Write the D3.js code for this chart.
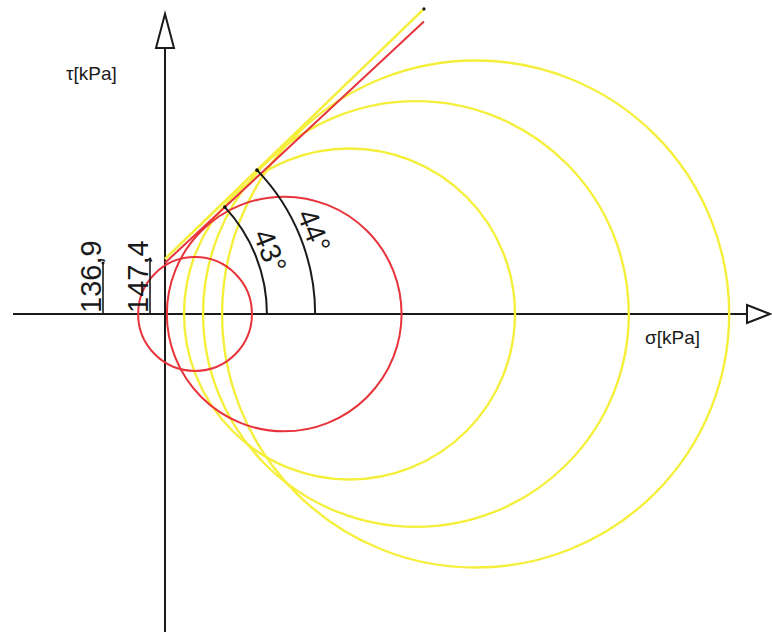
<!DOCTYPE html>
<html>
<head>
<meta charset="utf-8">
<script src="https://cdn.jsdelivr.net/npm/d3@7"></script>
<style>
  html, body { margin: 0; padding: 0; background: #fff; }
  svg { display: block; }
  text { font-family: "Liberation Sans", Arial, sans-serif; fill: #1a1a1a; }
</style>
</head>
<body>
<script>
// Mohr circles (kPa) for two test series and their Mohr–Coulomb envelopes
const redSigma3 = [-72, 5];
const redSigma1 = [233, 634];
const yellowSigma3 = [51, 102, 153];
const yellowSigma1 = [938, 1243, 1512];

// envelopes: friction angle (deg), cohesion (kPa), sigma where the line stops (kPa)
const envNames = ["red", "yellow"];
const envPhi = [43, 44];
const envCohesion = [136.9, 147.4];
const envSigmaEnd = [694, 694];
const envArcRadius = [420, 555];          // radius of the angle arc (kPa)
const cohesionLabels = ["136,9", "147,4"];
const cohesionOffset = [-62, -15];         // dimension line position relative to tau axis (px)

const axisLabelX = "σ[kPa]";
const axisLabelY = "τ[kPa]";

const W = 772, H = 632;
const colors = { red: "#e8333b", yellow: "#f5ef3c" };

// equal scales on both axes so the circles stay round
const origin = [165, 314];
const pxPerKPa = 1 / 2.68;
const x = d3.scaleLinear().domain([0, 1000]).range([origin[0], origin[0] + 1000 * pxPerKPa]);
const y = d3.scaleLinear().domain([0, 1000]).range([origin[1], origin[1] - 1000 * pxPerKPa]);
const len = v => x(v) - x(0);

const svg = d3.select("body").append("svg").attr("width", W).attr("height", H);

// ---- axes ----
const ax = svg.append("g").attr("stroke", "#1a1a1a").attr("stroke-width", 2).attr("fill", "#fff");
ax.append("line").attr("x1", 13).attr("x2", 747).attr("y1", y(0)).attr("y2", y(0));
ax.append("line").attr("x1", x(0)).attr("x2", x(0)).attr("y1", 48).attr("y2", H);
ax.append("path").attr("d", `M${x(0)},14 L${x(0) - 9},48 L${x(0) + 9},48 Z`);
ax.append("path").attr("d", `M770,${y(0)} L747,${y(0) - 9} L747,${y(0) + 9} Z`);

svg.append("text").attr("x", 66).attr("y", 80).attr("font-size", 19).attr("fill", "#333").text(axisLabelY);
svg.append("text").attr("x", 645).attr("y", 344).attr("font-size", 19).attr("fill", "#333").text(axisLabelX);

// ---- Mohr circles ----
function drawCircles(s3, s1, color, width) {
  svg.append("g").selectAll("circle")
    .data(s3.map((a, i) => ({ s3: a, s1: s1[i] })))
    .join("circle")
    .attr("cx", d => x((d.s1 + d.s3) / 2))
    .attr("cy", y(0))
    .attr("r", d => len((d.s1 - d.s3) / 2))
    .attr("fill", "none")
    .attr("stroke", color)
    .attr("stroke-width", width);
}
drawCircles(yellowSigma3, yellowSigma1, colors.yellow, 2.4);
drawCircles(redSigma3, redSigma1, colors.red, 2);

// ---- envelopes, angle arcs and cohesion dimensions ----
const order = [1, 0]; // yellow underneath, red on top
order.forEach(i => {
  const phi = envPhi[i] * Math.PI / 180;
  const c = envCohesion[i];
  const col = colors[envNames[i]];
  svg.append("line")
    .attr("x1", x(0)).attr("y1", y(c))
    .attr("x2", x(envSigmaEnd[i])).attr("y2", y(c + envSigmaEnd[i] * Math.tan(phi)))
    .attr("stroke", col).attr("stroke-width", envNames[i] === "yellow" ? 2.6 : 2);
});

envPhi.forEach((deg, i) => {
  const phi = deg * Math.PI / 180;
  const c = envCohesion[i];
  const apex = -c / Math.tan(phi);          // where the envelope meets the sigma axis
  const R = envArcRadius[i];
  const cx = x(apex), cy = y(0), r = len(R);
  const ex = cx + r * Math.cos(phi), ey = cy - r * Math.sin(phi);
  svg.append("path")
    .attr("d", `M${cx + r},${cy} A${r},${r} 0 0 0 ${ex},${ey}`)
    .attr("fill", "none").attr("stroke", "#1a1a1a").attr("stroke-width", 2);
  svg.append("circle").attr("cx", ex).attr("cy", ey).attr("r", 1.8).attr("fill", "#111");

  // angle label along the arc
  const mid = phi / 2, rt = r + 5;
  const tx = cx + rt * Math.cos(mid), ty = cy - rt * Math.sin(mid);
  svg.append("text")
    .attr("transform", `translate(${tx},${ty}) rotate(${90 - deg / 2})`)
    .attr("text-anchor", "middle")
    .attr("font-size", 29)
    .text(`${deg}°`);

  // cohesion dimension
  const dx = x(0) + cohesionOffset[i];
  svg.append("line").attr("x1", dx).attr("x2", dx).attr("y1", y(0)).attr("y2", y(c))
    .attr("stroke", "#1a1a1a").attr("stroke-width", 1.6);
  svg.append("circle").attr("cx", dx).attr("cy", y(c)).attr("r", 1.5).attr("fill", "#111");
  svg.append("text")
    .attr("transform", `translate(${dx - 2},${y(0) - 1}) rotate(-90)`)
    .attr("font-size", 29)
    .text(cohesionLabels[i]);
});

// end marker of the upper envelope
svg.append("circle")
  .attr("cx", x(envSigmaEnd[1]))
  .attr("cy", y(envCohesion[1] + envSigmaEnd[1] * Math.tan(envPhi[1] * Math.PI / 180)))
  .attr("r", 1.6).attr("fill", "#111");
</script>
</body>
</html>
